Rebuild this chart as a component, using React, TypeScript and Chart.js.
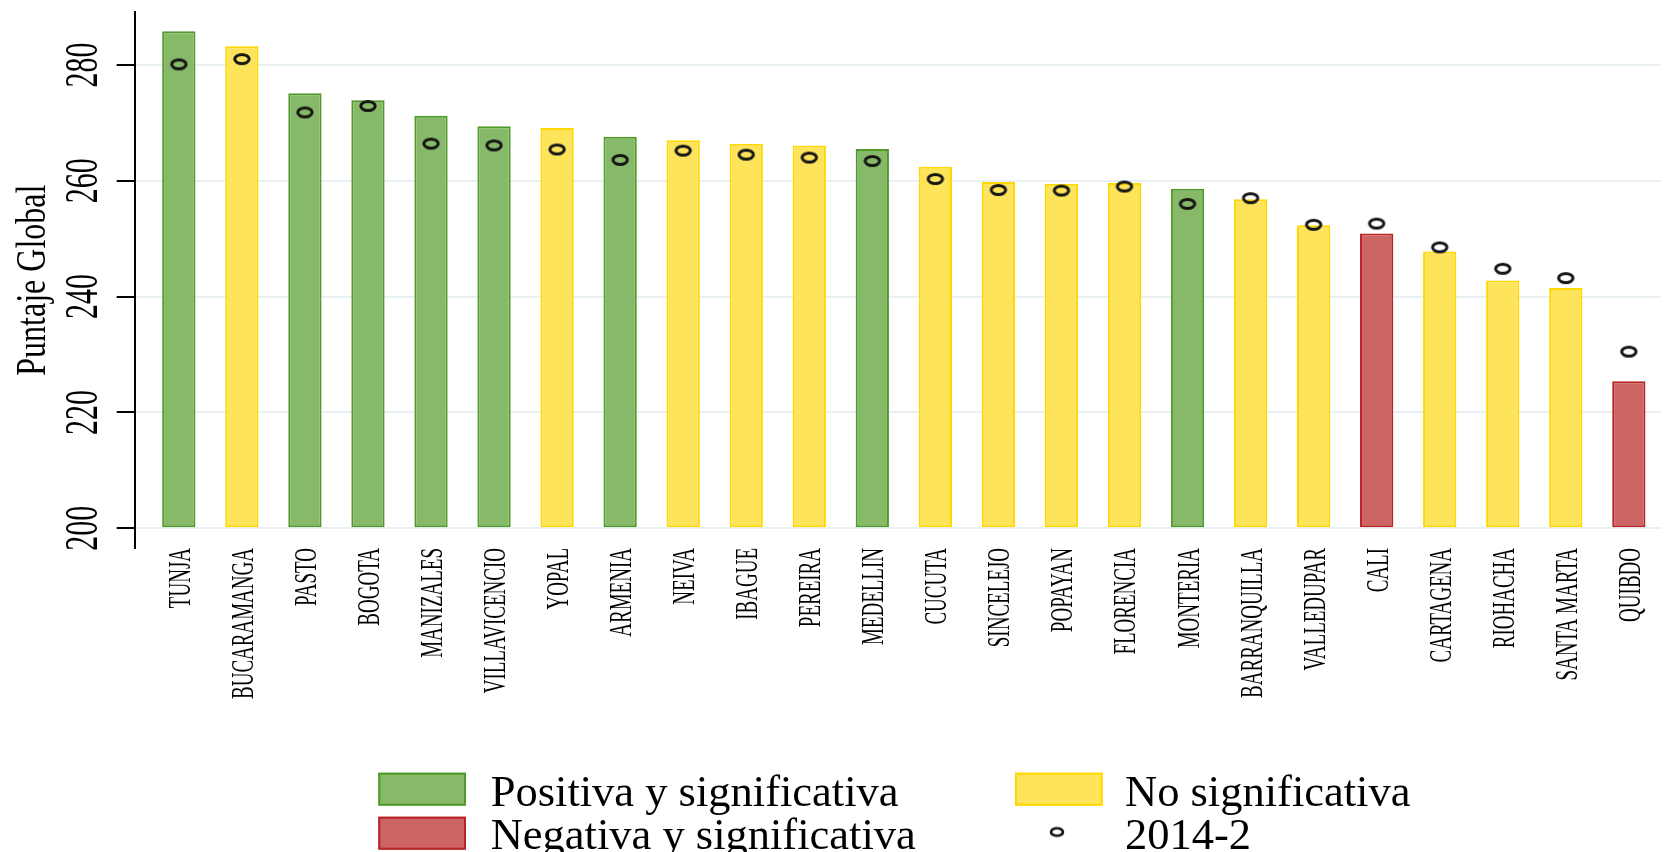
import React, { useEffect, useRef } from 'react';
import { Chart, registerables } from 'chart.js';

Chart.register(...registerables);

const cities = [
  'TUNJA', 'BUCARAMANGA', 'PASTO', 'BOGOTA', 'MANIZALES', 'VILLAVICENCIO', 'YOPAL', 'ARMENIA',
  'NEIVA', 'IBAGUE', 'PEREIRA', 'MEDELLIN', 'CUCUTA', 'SINCELEJO', 'POPAYAN', 'FLORENCIA',
  'MONTERIA', 'BARRANQUILLA', 'VALLEDUPAR', 'CALI', 'CARTAGENA', 'RIOHACHA', 'SANTA MARTA', 'QUIBDO',
];
const puntajeActual = [
  285.8, 283.2, 275.1, 273.9, 271.2, 269.4, 269.1, 267.6,
  267.0, 266.4, 266.1, 265.5, 262.4, 259.8, 259.5, 259.6,
  258.6, 256.8, 252.3, 250.9, 247.8, 242.8, 241.5, 225.4,
];
const puntaje2014 = [
  280.1, 281.0, 271.8, 272.9, 266.4, 266.1, 265.4, 263.6,
  265.2, 264.5, 264.0, 263.4, 260.3, 258.4, 258.3, 259.0,
  256.0, 257.0, 252.4, 252.6, 248.5, 244.8, 243.2, 230.5,
];
const significancia = [
  'pos', 'no', 'pos', 'pos', 'pos', 'pos', 'no', 'pos',
  'no', 'no', 'no', 'pos', 'no', 'no', 'no', 'no',
  'pos', 'no', 'no', 'neg', 'no', 'no', 'no', 'neg',
];
const yTicks = [200, 220, 240, 260, 280];
const yAxisTitle = 'Puntaje Global';
const legendPositiva = 'Positiva y significativa';
const legendNo = 'No significativa';
const legendNegativa = 'Negativa y significativa';
const legendMarker = '2014-2';

const FILL: Record<string, string> = { pos: '#86b968', no: '#fee45a', neg: '#cd6565' };
const EDGE: Record<string, string> = { pos: '#4f9a2b', no: '#ffd800', neg: '#b82424' };
const SERIF = '"Liberation Serif", "Times New Roman", serif';

function makeRing(w: number, h: number, rx: number, ry: number, lw: number) {
  const c = document.createElement('canvas');
  c.width = w;
  c.height = h;
  const g = c.getContext('2d')!;
  g.strokeStyle = '#151515';
  g.lineWidth = lw;
  g.beginPath();
  g.ellipse(w / 2, h / 2, rx, ry, 0, 0, Math.PI * 2);
  g.stroke();
  return c;
}

function drawRotated(ctx: CanvasRenderingContext2D, text: string, x: number, y: number, size: number, stretch: number, align: CanvasTextAlign) {
  ctx.save();
  ctx.translate(x, y);
  ctx.rotate(-Math.PI / 2);
  ctx.scale(1, stretch);
  ctx.font = `${size}px ${SERIF}`;
  ctx.textAlign = align;
  ctx.textBaseline = 'alphabetic';
  ctx.fillStyle = '#000';
  ctx.fillText(text, 0, 0);
  ctx.restore();
}

export default function App() {
  const ref = useRef<HTMLCanvasElement | null>(null);

  useEffect(() => {
    const canvas = ref.current;
    if (!canvas) return;
    const ring = makeRing(20, 14, 7.2, 4.5, 3);
    const smallRing = makeRing(18, 13, 6, 3.8, 2.6);

    const textPlugin = {
      id: 'stataText',
      afterDraw(chart: any) {
        const ctx: CanvasRenderingContext2D = chart.ctx;
        const xs = chart.scales.x;
        const ys = chart.scales.y;
        const area = chart.chartArea;
        cities.forEach((c, i) => {
          drawRotated(ctx, c, xs.getPixelForValue(i) + 11, 548, 19, 1.62, 'right');
        });
        yTicks.forEach((v) => {
          drawRotated(ctx, String(v), ys.left - 19.7, ys.getPixelForValue(v), 30, 1.55, 'center');
        });
        drawRotated(ctx, yAxisTitle, 45, (area.top + area.bottom) / 2, 32, 1.32, 'center');

        // legend
        const swatch = (x: number, y: number, key: string) => {
          ctx.fillStyle = FILL[key];
          ctx.fillRect(x, y, 87.7, 33);
          ctx.strokeStyle = EDGE[key];
          ctx.lineWidth = 2;
          ctx.strokeRect(x + 1, y + 1, 85.7, 31);
        };
        swatch(378.3, 772.7, 'pos');
        swatch(378.3, 816.7, 'neg');
        swatch(1015, 772.7, 'no');
        ctx.drawImage(smallRing, 1057 - smallRing.width / 2, 832 - smallRing.height / 2);
        ctx.save();
        ctx.font = `44.5px ${SERIF}`;
        ctx.fillStyle = '#000';
        ctx.textAlign = 'left';
        ctx.textBaseline = 'alphabetic';
        ctx.fillText(legendPositiva, 490.7, 806);
        ctx.fillText(legendNegativa, 490.7, 849);
        ctx.fillText(legendNo, 1125, 806);
        ctx.fillText(legendMarker, 1125, 849);
        ctx.restore();
      },
    };

    const chart = new Chart(canvas, {
      type: 'bar',
      data: {
        datasets: [
          {
            type: 'line',
            label: legendMarker,
            data: cities.map((_, i) => ({ x: i, y: puntaje2014[i] })),
            showLine: false,
            pointStyle: ring as any,
            pointRadius: 5,
            order: 0,
          } as any,
          {
            type: 'bar',
            label: 'Puntaje',
            data: cities.map((_, i) => ({ x: i, y: puntajeActual[i] })),
            base: 200,
            backgroundColor: significancia.map((s) => FILL[s]),
            borderColor: significancia.map((s) => EDGE[s]),
            borderWidth: 2,
            borderSkipped: false,
            barPercentage: 0.528,
            categoryPercentage: 1,
            order: 1,
          } as any,
        ],
      },
      options: {
        animation: false,
        responsive: false,
        events: [],
        layout: { padding: { left: 116.7, top: 12.3, right: 0, bottom: 296 } },
        plugins: { legend: { display: false }, tooltip: { enabled: false } },
        scales: {
          x: {
            type: 'linear',
            min: -0.7,
            max: 23.51,
            bounds: 'data',
            offset: false,
            afterBuildTicks: (s: any) => { s.ticks = cities.map((_, i) => ({ value: i })); },
            ticks: { display: false },
            grid: { display: false },
            border: { display: false },
          },
          y: {
            type: 'linear',
            min: 196.6,
            max: 289.08,
            bounds: 'data',
            afterBuildTicks: (s: any) => { s.ticks = yTicks.map((v) => ({ value: v })); },
            ticks: { display: false },
            grid: { color: '#e8f0f3', lineWidth: 2, tickColor: '#000', tickLength: 18, tickWidth: 2, drawTicks: true },
            border: { color: '#000', width: 2 },
          },
        },
      } as any,
      plugins: [textPlugin],
    });
    return () => chart.destroy();
  }, []);

  return (
    <div style={{ position: 'fixed', left: 0, top: 0, width: 1667, height: 852, background: '#fff' }}>
      <canvas ref={ref} width={1667} height={852} style={{ display: 'block' }} />
    </div>
  );
}
